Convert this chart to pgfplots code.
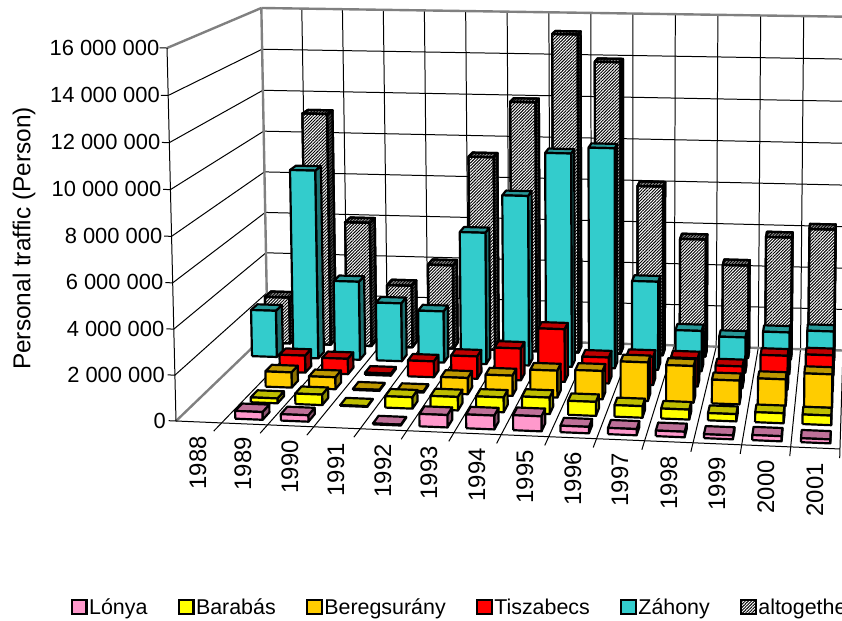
\documentclass[border=0pt]{standalone}
\usepackage{fontspec}
\setmainfont{Liberation Sans}
\usepackage{pgfplots}
\usepackage{pgfplotstable}
\pgfplotsset{compat=1.18}
\usetikzlibrary{patterns.meta}

% Yearly traffic at the crossings, in millions of persons (0 = no traffic recorded)
\pgfplotstableread{
year Lonya Barabas Beregsurany Tiszabecs Zahony altogether
1988 0    0    0    0    2.22  2.25
1989 0.34 0.22 0.70 0.80 8.94  11.20
1990 0.28 0.47 0.55 0.72 3.73  6.00
1991 0    0.03 0.05 0.10 2.76  3.00
1992 0.04 0.51 0.06 0.74 2.44  4.05
1993 0.54 0.60 0.74 1.04 6.22  9.30
1994 0.60 0.66 0.92 1.48 8.00  11.96
1995 0.65 0.73 1.22 2.44 10.03 15.20
1996 0.28 0.62 1.28 1.20 10.32 13.93
1997 0.27 0.51 1.74 1.30 4.15  8.09
1998 0.24 0.44 1.65 1.30 1.90  5.62
1999 0.17 0.32 1.07 1.00 1.66  4.43
2000 0.22 0.44 1.20 1.56 1.96  5.82
2001 0.17 0.42 1.50 1.65 2.07  6.25
}\traffic

\definecolor{pinkF}{RGB}{255,153,204}\definecolor{pinkT}{RGB}{190,112,152}\definecolor{pinkS}{RGB}{140,84,112}
\definecolor{yelF}{RGB}{255,255,0}\definecolor{yelT}{RGB}{190,190,0}\definecolor{yelS}{RGB}{140,140,0}
\definecolor{oraF}{RGB}{255,204,0}\definecolor{oraT}{RGB}{190,152,0}\definecolor{oraS}{RGB}{140,112,0}
\definecolor{redF}{RGB}{255,0,0}\definecolor{redT}{RGB}{190,0,0}\definecolor{redS}{RGB}{140,0,0}
\definecolor{teaF}{RGB}{51,204,204}\definecolor{teaT}{RGB}{38,152,152}\definecolor{teaS}{RGB}{28,112,112}
\definecolor{wallgray}{RGB}{128,128,128}

\tikzset{
  edge/.style={draw=black,line width=2.2pt,line join=round},
  pinkfront/.style={edge,fill=pinkF},pinkside/.style={edge,fill=pinkS},pinktop/.style={edge,fill=pinkT},
  yelfront/.style={edge,fill=yelF},yelside/.style={edge,fill=yelS},yeltop/.style={edge,fill=yelT},
  orafront/.style={edge,fill=oraF},oraside/.style={edge,fill=oraS},oratop/.style={edge,fill=oraT},
  redfront/.style={edge,fill=redF},redside/.style={edge,fill=redS},redtop/.style={edge,fill=redT},
  teafront/.style={edge,fill=teaF},teaside/.style={edge,fill=teaS},teatop/.style={edge,fill=teaT},
  hatchfront/.style={edge,preaction={fill=white},pattern={Lines[angle=45,distance=2.2pt,line width=0.95pt]},pattern color=black},
  hatchside/.style={edge,preaction={fill=black!70},pattern={Lines[angle=45,distance=2.2pt,line width=0.95pt]},pattern color=black},
  hatchtop/.style={edge,preaction={fill=black!45},pattern={Lines[angle=45,distance=2.2pt,line width=0.95pt]},pattern color=black},
  floorline/.style={draw=black,line width=1pt},
  wallline/.style={draw=wallgray,line width=2.4pt},
  keybox/.style={draw=black,line width=2.2pt},
  horiz/.style={font=\fontsize{22}{24}\selectfont,inner sep=0pt},
  vert/.style={font=\fontsize{24}{26}\selectfont,inner sep=0pt,rotate=90},
}

% Perspective map: category X (0..14), depth Y (0..1), height Z (units of 2 million)
\newcommand{\Proj}[4]{%
  \pgfmathsetmacro{\pu}{(#1)/14}%
  \pgfmathsetmacro{\pw}{1-0.04*\pu+0.15*(#2)-0.00246*(#3)}%
  \expandafter\pgfmathsetmacro\csname #4x\endcsname{(176+630.4*\pu+131.63*(#2)-2.3*\pu*(#2)-1.53*(#3))/\pw}%
  \expandafter\pgfmathsetmacro\csname #4y\endcsname{(421+10.04*\pu-38.05*(#2)-3.93*\pu*(#2)+(-46.74+0.39*\pu)*(#3))/\pw}%
}
\newcommand{\Quad}[5]{%
  \edef\doplot{\noexpand\addplot[forget plot,#1] coordinates {%
    (\csname #2x\endcsname,\csname #2y\endcsname)
    (\csname #3x\endcsname,\csname #3y\endcsname)
    (\csname #4x\endcsname,\csname #4y\endcsname)
    (\csname #5x\endcsname,\csname #5y\endcsname)
    (\csname #2x\endcsname,\csname #2y\endcsname)};}\doplot}
\newcommand{\Segment}[7]{%
  \Proj{#2}{#3}{#4}{segA}\Proj{#5}{#6}{#7}{segB}%
  \edef\doplot{\noexpand\addplot[forget plot,#1] coordinates {(\segAx,\segAy) (\segBx,\segBy)};}\doplot}

% One bar: #1 depth slot, #2 category, #3 value in millions, #4 style prefix
\newcommand{\DrawBar}[4]{%
  \pgfmathsetmacro{\xa}{#2+0.2}\pgfmathsetmacro{\xb}{#2+0.8}%
  \pgfmathsetmacro{\ya}{(#1+0.275)/6}\pgfmathsetmacro{\yb}{(#1+0.725)/6}%
  \pgfmathsetmacro{\zt}{#3/2}%
  \Proj{\xa}{\ya}{0}{A}\Proj{\xb}{\ya}{0}{B}\Proj{\xb}{\ya}{\zt}{C}\Proj{\xa}{\ya}{\zt}{D}%
  \Proj{\xb}{\yb}{0}{E}\Proj{\xb}{\yb}{\zt}{F}\Proj{\xa}{\yb}{\zt}{G}%
  \Quad{#4side}{B}{E}{F}{C}%
  \Quad{#4top}{D}{C}{F}{G}%
  \Quad{#4front}{A}{B}{C}{D}%
}
% A whole row of bars taken from one table column
\newcommand{\DrawSeries}[3]{%
  \pgfplotsforeachungrouped \xi in {0,...,13}{%
    \pgfplotstablegetelem{\xi}{#2}\of\traffic
    \let\barval\pgfplotsretval
    \ifdim\barval pt>0pt \DrawBar{#1}{\xi}{\barval}{#3}\fi
  }%
}

\begin{document}
\begin{tikzpicture}
\useasboundingbox (0,0) rectangle (842bp,621bp);
\clip (0,0) rectangle (842bp,621bp);
\begin{axis}[
  at={(0,0)},anchor=south west,
  scale only axis,width=842bp,height=621bp,
  xmin=0,xmax=842,ymin=0,ymax=621,y dir=reverse,
  hide axis,
  legend columns=6,
  legend cell align=left,
  legend image code/.code={\draw[keybox,#1] (0pt,-7pt) rectangle (14.5pt,7pt);},
  legend style={at={(axis cs:71,607)},anchor=west,draw=none,fill=none,inner sep=0pt,outer sep=0pt,
    font=\fontsize{21.5}{24}\selectfont,
    /tikz/every even column/.append style={column sep=29pt},
    nodes={inner sep=1.5pt}},
]
% back wall
\pgfplotsforeachungrouped \zi in {1,...,7}{\Segment{floorline}{0}{1}{\zi}{14}{1}{\zi}}
\pgfplotsforeachungrouped \xi in {1,...,13}{\Segment{floorline}{\xi}{1}{0}{\xi}{1}{8}}
% side wall
\pgfplotsforeachungrouped \zi in {1,...,7}{\Segment{floorline}{0}{0}{\zi}{0}{1}{\zi}}
% floor
\pgfplotsforeachungrouped \xi in {1,...,14}{\Segment{floorline}{\xi}{-0.0}{0}{\xi}{1}{0}}
% frame of the walls
\Segment{wallline}{0}{1}{0}{14}{1}{0}
\Segment{wallline}{0}{1}{8}{14}{1}{8}
\Segment{wallline}{0}{1}{0}{0}{1}{8}
\Segment{wallline}{0}{0}{8}{0}{1}{8}
\Segment{wallline}{0}{0}{0}{0}{1}{0}
% axes and tick marks
\Segment{floorline}{0}{0}{0}{0}{0}{8}
\Segment{floorline}{0}{0}{0}{14}{0}{0}
\pgfplotsforeachungrouped \xi in {1,...,14}{\Segment{floorline}{\xi}{0}{0}{\xi}{-0.08}{0}}
\pgfplotsforeachungrouped \zi in {0,...,8}{\Segment{floorline}{0}{0}{\zi}{-0.16}{0}{\zi}}

% bars, from the back row to the front row
\DrawSeries{5}{altogether}{hatch}
\DrawSeries{4}{Zahony}{tea}
\DrawSeries{3}{Tiszabecs}{red}
\DrawSeries{2}{Beregsurany}{ora}
\DrawSeries{1}{Barabas}{yel}
\DrawSeries{0}{Lonya}{pink}

% value axis labels
\node[horiz,anchor=east] at (axis cs:159.5,48) {16 000 000};
\node[horiz,anchor=east] at (axis cs:160,95) {14 000 000};
\node[horiz,anchor=east] at (axis cs:160.5,142) {12 000 000};
\node[horiz,anchor=east] at (axis cs:161.5,189) {10 000 000};
\node[horiz,anchor=east] at (axis cs:162.5,236) {8 000 000};
\node[horiz,anchor=east] at (axis cs:163.5,282) {6 000 000};
\node[horiz,anchor=east] at (axis cs:164.5,329) {4 000 000};
\node[horiz,anchor=east] at (axis cs:165,375) {2 000 000};
\node[horiz,anchor=east] at (axis cs:166,421) {0};
\node[vert,anchor=center] at (axis cs:24,238.5) {\fontsize{24.5}{26}\selectfont Personal traffic (Person)};

% category labels
\node[vert,anchor=east] at (axis cs:198,436) {1988};
\node[vert,anchor=east] at (axis cs:243,437) {1989};
\node[vert,anchor=east] at (axis cs:290,440) {1990};
\node[vert,anchor=east] at (axis cs:336,443) {1991};
\node[vert,anchor=east] at (axis cs:383,444) {1992};
\node[vert,anchor=east] at (axis cs:429,446) {1993};
\node[vert,anchor=east] at (axis cs:477,448) {1994};
\node[vert,anchor=east] at (axis cs:525,450) {1995};
\node[vert,anchor=east] at (axis cs:573,452) {1996};
\node[vert,anchor=east] at (axis cs:620,453) {1997};
\node[vert,anchor=east] at (axis cs:669,456) {1998};
\node[vert,anchor=east] at (axis cs:717,457) {1999};
\node[vert,anchor=east] at (axis cs:766,460) {2000};
\node[vert,anchor=east] at (axis cs:815,463) {2001};

% legend
\addlegendimage{fill=pinkF}\addlegendentry{Lónya}
\addlegendimage{fill=yelF}\addlegendentry{Barabás}
\addlegendimage{fill=oraF}\addlegendentry{Beregsurány}
\addlegendimage{fill=redF}\addlegendentry{Tiszabecs}
\addlegendimage{fill=teaF}\addlegendentry{Záhony}
\addlegendimage{preaction={fill=white},pattern={Lines[angle=45,distance=2.2pt,line width=0.95pt]},pattern color=black}\addlegendentry{altogether}
\end{axis}
\end{tikzpicture}
\end{document}
